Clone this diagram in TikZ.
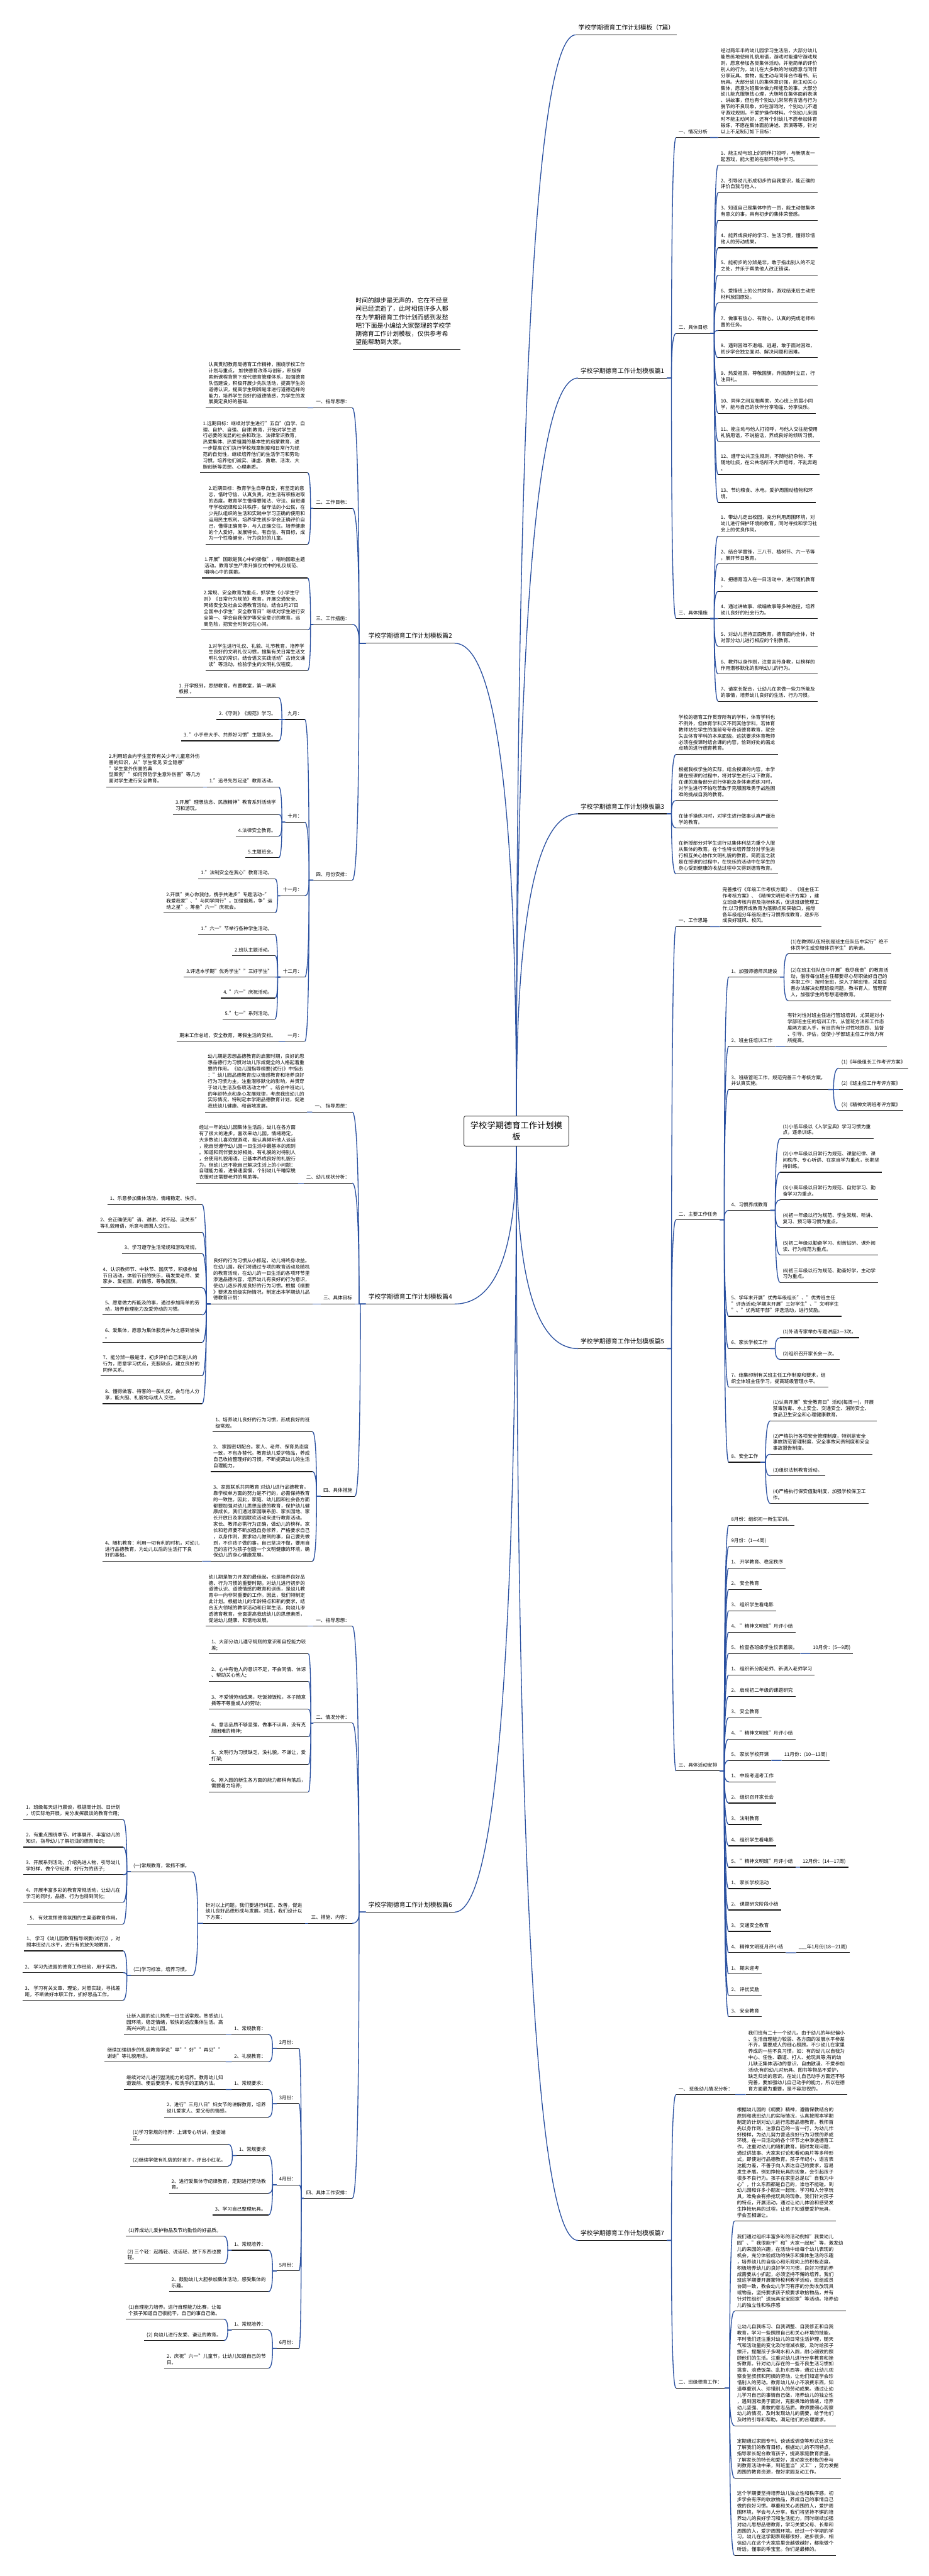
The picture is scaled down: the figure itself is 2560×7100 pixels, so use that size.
\documentclass[tikz,border=0pt]{standalone}
\usepackage{fontspec}
\setmainfont{Noto Sans CJK SC}
\usetikzlibrary{calc}
\definecolor{cblue}{RGB}{42,80,160}
\definecolor{uline}{RGB}{26,26,26}
\newcommand\fbody{\fontsize{13.3}{17.1}\selectfont}
\newcommand\ftitle{\fontsize{17}{23}\selectfont}
\newcommand\froot{\fontsize{23}{30}\selectfont}
\tikzset{
  ulstyle/.style={draw=uline,line width=2pt},
  nd/.style={inner xsep=7pt,inner ysep=0pt,align=left,font=\fbody,
    execute at end node={\rule[-11pt]{0pt}{11pt}},
    append after command={(\tikzlastnode.south west) edge[ulstyle] (\tikzlastnode.south east)}},
  R/.style={nd,anchor=south west},
  L/.style={nd,anchor=south east},
  ttl/.style={inner xsep=7pt,inner ysep=0pt,align=left,font=\ftitle,
    execute at end node={\rule[-13.5pt]{0pt}{13.5pt}},
    append after command={(\tikzlastnode.south west) edge[ulstyle] (\tikzlastnode.south east)}},
  intro/.style={inner xsep=7pt,inner ysep=0pt,align=left,font=\fontsize{17}{23}\selectfont,
    execute at end node={\rule[-13pt]{0pt}{13pt}},
    append after command={(\tikzlastnode.south west) edge[ulstyle] (\tikzlastnode.south east)}},
  rootnode/.style={draw=uline!85,fill=white,line width=1.6pt,rounded corners=5pt,align=center,font=\froot,
    minimum width=289pt,minimum height=83pt,inner sep=0pt},
  conn/.style={draw=cblue,line width=2.3pt,to path={let \p1=(\tikztostart),\p2=(\tikztotarget) in
    -- ({\x1/2+\x2/2},\y1) .. controls ({\x1/2+\x2/2},{\y1/3+\y2/3*2}) and ({\x1/3+\x2/3*2},\y2) .. (\p2)}},
  rconn/.style={draw=cblue,line width=2.3pt,to path={let \p1=(\tikztostart),\p2=(\tikztotarget) in
    .. controls (\x1,{\y1/3+\y2/3*2}) and ({\x1/3*2+\x2/3},\y2) .. (\p2)}}
}
\newcommand\cR[2]{\draw[conn] (#1.south east) to (#2.south west);}
\newcommand\cL[2]{\draw[conn] (#1.south west) to (#2.south east);}
\begin{document}
\begin{tikzpicture}[x=1pt,y=-1pt]
\fill[white] (0,0) rectangle (2560,7100);
\useasboundingbox (0,0) rectangle (2560,7100);

% ---------- titles ----------
\node[ttl,anchor=south west] (t0) at (1587,96) {学校学期德育工作计划模板（7篇）};
\node[ttl,anchor=south west] (t1) at (1593,1042) {学校学期德育工作计划模板篇1};
\node[ttl,anchor=south east] (t2) at (1253,1773) {学校学期德育工作计划模板篇2};
\node[ttl,anchor=south west] (t3) at (1593,2243) {学校学期德育工作计划模板篇3};
\node[ttl,anchor=south east] (t4) at (1253,3594) {学校学期德育工作计划模板篇4};
\node[ttl,anchor=south west] (t5) at (1593,3717) {学校学期德育工作计划模板篇5};
\node[ttl,anchor=south east] (t6) at (1253,5270) {学校学期德育工作计划模板篇6};
\node[ttl,anchor=south west] (t7) at (1593,6175) {学校学期德育工作计划模板篇7};
\coordinate (ctop) at (1423,3076);
\coordinate (cbot) at (1423,3159);
\foreach \t in {t0,t1,t3}{\draw[rconn] (ctop) to (\t.south west);}
\foreach \t in {t5,t7}{\draw[rconn] (cbot) to (\t.south west);}
\draw[rconn] (ctop) to (t2.south east);
\foreach \t in {t4,t6}{\draw[rconn] (cbot) to (\t.south east);}
\node[rootnode] (c) at (1423,3117.5) {学校学期德育工作计划模\\板};

\node[intro,anchor=south west] (intro) at (973,963) {时间的脚步是无声的，它在不经意\\间已经流逝了，此时相信许多人都\\在为学期德育工作计划而感到发愁\\吧?下面是小编给大家整理的学校学\\期德育工作计划模板，仅供参考希\\望能帮助到大家。};
\draw[ulstyle] (intro.south east) -- ++(18,0);

% ---------- 篇1 ----------
\node[R] (a1) at (1863,379) {一、情况分析};
\node[R] (a1p) at (1979,379) {经过两年半的幼儿园学习生活后，大部分幼儿\\能熟练地使用礼貌用语，游戏时能遵守游戏规\\则，愿意参加各类集体活动，并能简单的评价\\别人的行为，幼儿在大多数的时候愿意与同伴\\分享玩具、食物，能主动与同伴合作看书、玩\\玩具。大部分幼儿的集体意识强，能主动关心\\集体，愿意为班集体做力所能及的事。大部分\\幼儿能克服胆怯心理，大胆地在集体面前表演\\、讲故事，但也有个别幼儿常常有言语与行为\\脱节的不良现象，如在游戏时，个别幼儿不遵\\守游戏规则，不爱护操作材料。个别幼儿来园\\时不能主动问好，还有个别幼儿不愿参加体育\\锻炼，不愿在集体面前讲述、表演等等，针对\\以上不足制订如下目标：};
\node[R] (a2) at (1863,919) {二、具体目标};
\node[R] (a2n1) at (1979,455) {1、能主动与班上的同伴打招呼，与新朋友一\\起游戏，能大胆的在新环境中学习。};
\node[R] (a2n2) at (1979,531) {2、引导幼儿形成初步的自我意识，能正确的\\评价自我与他人。};
\node[R] (a2n3) at (1979,607) {3、知道自己是集体中的一员，能主动做集体\\有意义的事，具有初步的集体荣誉感。};
\node[R] (a2n4) at (1979,683) {4、能养成良好的学习、生活习惯，懂得珍惜\\他人的劳动成果。};
\node[R] (a2n5) at (1979,758) {5、能初步的分辨是非，敢于指出别人的不足\\之处，并乐于帮助他人改正错误。};
\node[R] (a2n6) at (1979,835) {6、爱惜班上的公共财务，游戏结束后主动把\\材料放回原处。};
\node[R] (a2n7) at (1979,911) {7、做事有信心、有耐心，认真的完成老师布\\置的任务。};
\node[R] (a2n8) at (1979,986) {8、遇到困难不退缩、逃避，敢于面对困难，\\初步学会独立面对、解决问题和困难。};
\node[R] (a2n9) at (1979,1063) {9、热爱祖国，尊敬国旗，升国旗时立正，行\\注目礼。};
\node[R] (a2n10) at (1979,1139) {10、同伴之间互相帮助，关心班上的弱小同\\学，能与自己的伙伴分享物品、分享快乐。};
\node[R] (a2n11) at (1979,1216) {11、能主动与他人打招呼，与他人交往能使用\\礼貌用语，不说脏话，养成良好的倾听习惯。};
\node[R] (a2n12) at (1979,1308) {12、遵守公共卫生规则，不随地扔杂物、不\\随地吐痰，在公共场所不大声喧哗，不乱奔跑\\。};
\node[R] (a2n13) at (1979,1385) {13、节约粮食、水电，爱护周围动植物和环\\境。};
\node[R] (a3) at (1863,1705) {三、具体措施};
\node[R] (a3n1) at (1979,1477) {1、带幼儿走出校园，充分利用周围环境，对\\幼儿进行保护环境的教育，同时寻找和学习社\\会上的优良作风。};
\node[R] (a3n2) at (1979,1554) {2、结合学雷锋，三八节、植树节、六一节等\\，展开节日教育。};
\node[R] (a3n3) at (1979,1630) {3、把德育溶入在一日活动中，进行随机教育\\。};
\node[R] (a3n4) at (1979,1705) {4、通过讲故事、续编故事等多种途径，培养\\幼儿良好的社会行为。};
\node[R] (a3n5) at (1979,1781) {5、对幼儿坚持正面教育，德育面向全体，针\\对部分幼儿进行相应的个别教育。};
\node[R] (a3n6) at (1979,1858) {6、教师以身作则，注意言传身教，以榜样的\\作用潜移默化的影响幼儿的行为。};
\node[R] (a3n7) at (1979,1933) {7、请家长配合，让幼儿在家做一些力所能及\\的事情，培养幼儿良好的生活、行为习惯。};
\foreach \v in {a1,a2,a3}{\cR{t1}{\v}}
\cR{a1}{a1p}
\foreach \i in {1,...,13}{\cR{a2}{a2n\i}}
\foreach \i in {1,...,7}{\cR{a3}{a3n\i}}

% ---------- 篇3 ----------
\node[R] (p3a) at (1863,2079) {学校的德育工作贯穿所有的学科，体育学科也\\不例外，但体育学科又不同其他学科，若体育\\教师站在学生的面前夸夸奇谈德育教育，就会\\失去体育学科的本来面貌。这就要求体育教师\\必须在授课时结合课的内容，恰到好处的画龙\\点睛的进行德育教育。};
\node[R] (p3b) at (1863,2206) {根据我校学生的实际，结合授课的内容，本学\\期在授课的过程中，将对学生进行以下教育。\\在课的准备部分进行体能及身体素质练习时，\\对学生进行不怕吃苦敢于克服困难勇于战胜困\\难的挑战自我的教育。};
\node[R] (p3c) at (1863,2282) {在徒手操练习时，对学生进行做事认真严谨治\\学的教育。};
\node[R] (p3d) at (1863,2409) {在新授部分对学生进行以集体利益为重个人服\\从集体的教育。在个性特长培养部分对学生进\\行相互关心协作文明礼貌的教育。简而言之就\\是在授课的过程中，在快乐的活动中在学生的\\身心受到健康的收益过程中又得到德育教育。};
\foreach \v in {p3a,p3b,p3c,p3d}{\cR{t3}{\v}}

% ---------- 篇5 ----------
\node[R] (e1) at (1863,2554) {一、工作思路};
\node[R] (e1p) at (1984,2554) {完善推行《年级工作考核方案》、《班主任工\\作考核方案》、《精神文明班考评方案》，建\\立班级考核内容及指标体系，促进班级管理工\\作;以习惯养成教育为落脚点和突破口，指导\\各年级组分年级段进行习惯养成教育，逐步形\\成良好班风、校风。};
\node[R] (e2) at (1863,3362) {二、主要工作任务};
\node[R] (e21) at (2008,2693) {1、加强师德师风建设};
\node[R] (e21a) at (2172,2629) {(1)在教师队伍特别是班主任队伍中实行"绝不\\体罚学生或变相体罚学生"的承诺。};
\node[R] (e21b) at (2172,2758) {(2)在班主任队伍中开展"我尽我责"的教育活\\动，倡导每位班主任都要尽心尽职做好自己的\\本职工作：按时坐班，深入了解班情，采取妥\\善办法解决处理班级问题，教书育人，管理育\\人，加强学生的思想道德教育。};
\node[R] (e22) at (2008,2884) {2、班主任培训工作};
\node[R] (e22a) at (2163,2884) {有针对性对班主任进行管班培训，尤其是对小\\学部班主任的培训工作，从管班方法和工作态\\度两方面入手，有目的有针对性地跟踪、监督\\、引导、评估，促使小学部班主任工作效力有\\所提高。};
\node[R] (e23) at (2008,3003) {3、班级管班工作，规范完善三个考核方案，\\并认真实施。};
\node[R] (e23a) at (2312,2944) {(1)《年级组长工作考评方案》};
\node[R] (e23b) at (2312,3003) {(2)《班主任工作考评方案》};
\node[R] (e23c) at (2312,3061) {(3)《精神文明班考评方案》};
\node[R] (e24) at (2008,3336) {4、习惯养成教育};
\node[R] (e24a) at (2150,3138) {(1)小低年级以《入学宝典》学习习惯为重\\点，逐条训练。};
\node[R] (e24b) at (2150,3231) {(2)小中年级以日常行为规范、课堂纪律、课\\间秩序、专心听讲、在家自学为重点，长期坚\\持训练。};
\node[R] (e24c) at (2150,3307) {(3)小高年级以日常行为规范、自觉学习、勤\\奋学习为重点。};
\node[R] (e24d) at (2150,3383) {(4)初一年级以行为规范、学生常规、听讲、\\复习、预习等习惯为重点。};
\node[R] (e24e) at (2150,3459) {(5)初二年级以勤奋学习、刻苦钻研、课外阅\\读、行为规范为重点。};
\node[R] (e24f) at (2150,3535) {(6)初三年级以行为规范、勤奋好学，主动学\\习为重点。};
\node[R] (e25) at (2008,3628) {5、学年末开展"优秀年级组长"、"优秀班主任\\"评选活动;学期末开展"三好学生"、"文明学生\\"、"优秀班干部"评选活动，进行奖励。};
\node[R] (e26) at (2008,3717) {6、家长学校工作};
\node[R] (e26a) at (2150,3687) {(1)外请专家举办专题讲座2—3次。};
\node[R] (e26b) at (2150,3747) {(2)组织召开家长会一次。};
\node[R] (e27) at (2008,3823) {7、结集印制有关班主任工作制度和要求，组\\织全体班主任学习，提高班级管理水平。};
\node[R] (e28) at (2008,4030) {8、安全工作};
\node[R] (e28a) at (2123,3916) {(1)认真开展"安全教育日"活动(每周一)，开展\\禁毒防毒、水上安全、交通安全、消防安全、\\食品卫生安全和心理健康教育。};
\node[R] (e28b) at (2123,4008) {(2)严格执行各项安全管理制度，特别是安全\\事故防范管理制度、安全事故问责制度和安全\\事故报告制度。};
\node[R] (e28c) at (2123,4068) {(3)组织法制教育活动。};
\node[R] (e28d) at (2123,4144) {(4)严格执行保安值勤制度，加强学校保卫工\\作。};
\node[R] (e3) at (1863,4881) {三、具体活动安排};
\foreach \v/\tx [count=\k from 0] in {
 k0/{8月份：组织初一新生军训。},
 k1/{9月份：(1—4周)},
 k2/{1、 开学教育、稳定秩序},
 k3/{2、 安全教育},
 k4/{3、 组织学生看电影},
 k5/{4、 "精神文明班"月评小结},
 k6/{5、 检查各班级学生仪表着装。},
 k7/{1、 组织新分配老师、新调入老师学习},
 k8/{2、 启动初二年级的课题研究},
 k9/{3、 安全教育},
 k10/{4、 "精神文明班"月评小结},
 k11/{5、 家长学校开课},
 k12/{1、 中段考迎考工作},
 k13/{2、 组织召开家长会},
 k14/{3、 法制教育},
 k15/{4、 组织学生看电影},
 k16/{5、 "精神文明班"月评小结},
 k17/{1、 家长学校活动},
 k18/{2、 课题研究阶段小结},
 k19/{3、 交通安全教育},
 k20/{4、 精神文明班月评小结},
 k21/{1、 期末迎考},
 k22/{2、 评优奖励},
 k23/{3、 安全教育}}{
 \node[R] (\v) at (2008,{4204+58.9*\k}) {\tx};
 \cR{e3}{\v}
}
\node[R] (k6s) at (2233,{4204+58.9*6}) {10月份：(5—9周)};
\node[R] (k11s) at (2154,{4204+58.9*11}) {11月份：(10—13周)};
\node[R] (k16s) at (2205,{4204+58.9*16}) {12月份：(14—17周)};
\node[R] (k20s) at (2194,{4204+58.9*20}) {\_\_\_年1月份(18—21周)};
\cR{k6}{k6s}\cR{k11}{k11s}\cR{k16}{k16s}\cR{k20}{k20s}
\foreach \v in {e1,e2,e3}{\cR{t5}{\v}}
\cR{e1}{e1p}
\foreach \v in {e21,e22,e23,e24,e25,e26,e27,e28}{\cR{e2}{\v}}
\cR{e21}{e21a}\cR{e21}{e21b}\cR{e22}{e22a}
\foreach \v in {a,b,c}{\cR{e23}{e23\v}}
\foreach \v in {a,b,c,d,e,f}{\cR{e24}{e24\v}}
\cR{e26}{e26a}\cR{e26}{e26b}
\foreach \v in {a,b,c,d}{\cR{e28}{e28\v}}

% ---------- 篇7 ----------
\node[R] (g1) at (1863,5773) {一、 班级幼儿情况分析：};
\node[R] (g1p) at (2055,5773) {我们班有二十一个幼儿。由于幼儿的年纪偏小\\、生活自理能力较弱、各方面的发展水平参差\\不齐，需要成人的细心照顾。不少幼儿在家里\\养成的一些不良习惯，如：有的幼儿以自我为\\中心、任性、霸道、打人、抢玩具等;有的幼\\儿缺乏集体活动的意识，自由散漫、不爱参加\\活动;有的幼儿对玩具、图书等物品不爱护，\\缺乏归类的意识。在幼儿自己动手方面还不够\\完善，要加强幼儿自己动手的能力，所以在德\\育方面最为重要，是不容忽视的。};
\node[R] (g2) at (1863,6582) {二、班级德育工作：};
\node[R] (g2a) at (2024,6122) {根据幼儿园的《纲要》精神，遵循保教结合的\\原则和我班幼儿的实际情况，认真按照本学期\\制定的计划对幼儿进行思想品德教育。教师首\\先以身作则，注意自己的一言一行，为幼儿作\\好榜样，为幼儿努力营造良好行为习惯的养成\\环境。在一日活动的各个环节之中渗透德育工\\作，注重对幼儿的随机教育。随时发现问题，\\通过讲故事、大家来讨论和看动画片等多种形\\式，即使进行品德教育。孩子年纪小，语言表\\达能力差，不善于向人表达自己的要求，容易\\发生矛盾。例如挣抢玩具的现象，会引起孩子\\很多不良行为。孩子在家里总是以"自我为中\\心"，什么东西都是自己的，谁也不能碰。到\\幼儿园和许多小朋友一起玩，学习和人分享玩\\具，难免会有挣抢玩具的现象。我们针对孩子\\的特点，开展活动，通过让幼儿体验和感受发\\生挣抢玩具的过程，让孩子知道要爱护玩具，\\学会互相谦让。};
\node[R] (g2b) at (2024,6370) {我们通过组织丰富多彩的活动例如"我爱幼儿\\园"、"我很能干"和"大家一起玩"等，激发幼\\儿的来园的兴趣，在活动中给每个幼儿表现的\\机会，充分体验成功的快乐和集体生活的乐趣\\，培养幼儿的自信心和乐观向上的积极态度。\\积极培养幼儿的良好学习习惯，良好习惯的养\\成需要从小抓起，必须坚持不懈的培养。我们\\班这学期要开展蒙特梭利教学活动，班组成员\\协调一致，教会幼儿学习有序的分类收放玩具\\或物品，坚持要求孩子按要求收拾物品，并有\\针对性组织"送玩具宝宝回家"等活动。培养幼\\儿的独立性和秩序感};
\node[R] (g2c) at (2024,6686) {让幼儿自我练习、自我调整、自我修正和自我\\教育，学习一些照顾自己和关心环境的技能。\\平时我们还注重对幼儿的日常生活护理，随天\\气和活动量的变化及时增减衣服，及时给孩子\\擦汗，提醒孩子多喝水和入厕，耐心细致的照\\顾他们的生活。注重对幼儿进行分享教育和挫\\折教育。针对幼儿存在的一些不良生活习惯如\\挑食、浪费饭菜、乱扔东西等，通过让幼儿观\\察食堂叔叔和阿姨的劳动，让他们知道学会珍\\惜别人的劳动。教育幼儿从小不浪费东西，知\\道尊重别人、珍惜别人的劳动成果。通过让幼\\儿学习自己的事情自己做，培养幼儿的独立性\\，遇到困难勇于面对，克服畏难的情绪，培养\\幼儿坚强、勇敢的意志品质。教师要细心观察\\幼儿的情况，及时发现幼儿的需要，给予他们\\及时的引导和帮助，满足他们的合理要求。};
\node[R] (g2d) at (2024,6830) {定期通过家园专刊、谈话或调查等形式让家长\\了解我们的教育目标，根据幼儿的不同特点，\\指导家长配合教育孩子，提高家庭教育质量。\\了解家长的特长和爱好，发动家长积极的参与\\到教育活动中来，到班里当"义工"，努力发掘\\周围的教育资源，做好家园互动工作。};
\node[R] (g2e) at (2024,7043) {这个学期要坚持培养幼儿独立性和秩序感，初\\步学会有序的收放物品，养成自己的事情自己\\做的良好习惯。尊重和关心周围的人，爱护周\\围环境，学会与人分享。我们将坚持不懈的培\\养幼儿的良好学习和生活能力，同时继续加强\\对幼儿思想品德教育，学习关爱父母、长辈和\\周围的人，爱护周围环境。经过一个学期的学\\习，幼儿在这学期表现都很好，进步很多，相\\信幼儿在这个大家庭里会越做越好，都能做个\\听话，懂事的乖宝宝。你们是最棒的。};
\cR{t7}{g1}\cR{t7}{g2}\cR{g1}{g1p}
\foreach \v in {a,b,c,d,e}{\cR{g2}{g2\v}}

% ---------- 篇2 ----------
\node[L] (b1) at (971,1124) {一、指导思想：};
\node[L] (b1p) at (848,1124) {认真贯彻教育局德育工作精神，围绕学校工作\\计划与重点， 加快德育改革与创新，积极探\\索新课程背景下现代德育管理体系，加强德育\\队伍建设，积极开展少先队活动，提高学生的\\道德认识，提高学生明辨是非进行道德选择的\\能力，培养学生良好的道德情感，为学生的发\\展奠定良好的基础.};
\node[L] (b2) at (971,1401) {二、工作目标：};
\node[L] (b2a) at (848,1303) {1.远期目标：继续对学生进行"五自"(自学、自\\理、自护、自强、自律)教育，开始对学生进\\行必要的浅显的社会和政治、法律常识教育，\\热爱集体、热爱祖国的基本性的启蒙教育，进\\一步提高它们执行学校规章制度和日常行为规\\范的自觉性，继续培养他们的生活学习和劳动\\习惯。培养他们诚实、谦虚、勇敢、活泼、大\\胆创新等思想、心理素质。};
\node[L] (b2b) at (848,1500) {2.近期目标：教育学生自尊自爱，有坚定的意\\志，惜时守信、认真负责，对生活有积极进取\\的态度。教育学生懂得要知法、守法、自觉遵\\守学校纪律和公共秩序，做守法的小公民，在\\少先队组织的生活和实践中学习正确的使用和\\运用民主权利。培养学生初步学会正确评价自\\己，懂得正确竞争，与人正确交往。培养健康\\的个人爱好，发展特长。有自信、有目标，成\\为一个性格健全，行为良好的儿童。};
\node[L] (b3) at (971,1721) {三、工作措施：};
\node[L] (b3a) at (848,1593) {1.开展"国歌是我心中的骄傲"，唱响国歌主题\\活动。教育学生严肃升旗仪式中的礼仪规范、\\唱响心中的国歌。};
\node[L] (b3b) at (848,1736) {2.常规、安全教育为重点，抓学生《小学生守\\则》《日常行为规范》教育，开展交通安全、\\网络安全及社会公德教育活动。结合3月27日\\全国中小学生"安全教育日"继续对学生进行安\\全第一、学会自我保护等安全意识的教育。远\\离危险，把安全时刻记在心间。};
\node[L] (b3c) at (848,1848) {3.对学生进行礼仪、礼貌、礼节教育，培养学\\生良好的文明礼仪习惯，搜集有关日常生活文\\明礼仪的常识。结合语文实践活动"古诗文诵\\读"等活动，检验学生的文明礼仪程度。};
\node[L] (b4) at (971,2426) {四、月份安排：};
\node[L] (m9) at (840,1983) {九月：};
\node[L] (m9a) at (768,1923) {1. 开学报到，思想教育，布置教室，第一期黑\\板报 。};
\node[L] (m9b) at (768,1983) {2.《守则》《规范》学习。};
\node[L] (m9c) at (768,2042) {3. "小手牵大手、共养好习惯"主题队会。};
\node[L] (m10) at (840,2266) {十月：};
\node[L] (m10a) at (768,2169) {1."追寻先烈足迹"教育活动。};
\node[L] (m10a1) at (560,2169) {2.利用班会向学生宣传有关少年儿童意外伤\\害的知识，从"学生常见 安全隐患"\\"学生意外伤害的典\\型案例""如何预防学生意外伤害"等几方\\面对学生进行安全教育。};
\node[L] (m10b) at (768,2245) {3.开展"理想信念、民族精神"教育系列活动学\\习和游玩。};
\node[L] (m10c) at (768,2305) {4.法律安全教育。};
\node[L] (m10d) at (768,2364) {5.主题班会。};
\node[L] (m11) at (840,2469) {十一月：};
\node[L] (m11a) at (758,2422) {1."法制安全在我心"教育活动。};
\node[L] (m11b) at (758,2516) {2.开展"关心你我他，携手共进步"专题活动–"\\我爱我家"、"与同学同行"。加强锻炼，争"运\\动之星"。筹备"六一"庆祝会。};
\node[L] (m12) at (840,2693) {十二月：};
\node[L] (m12a) at (758,2575) {1."六一"节举行各种学生活动。};
\node[L] (m12b) at (758,2634) {2.班队主题活动。};
\node[L] (m12c) at (758,2693) {3.评选本学期"优秀学生""三好学生"};
\node[L] (m12d) at (758,2751) {4. "六一"庆祝活动。};
\node[L] (m12e) at (758,2809) {5."七一"系列活动。};
\node[L] (m1) at (840,2870) {一月：};
\node[L] (m1a) at (768,2870) {期末工作总结，安全教育，寒假生活的安排。};
\foreach \v in {b1,b2,b3,b4}{\cL{t2}{\v}}
\cL{b1}{b1p}\cL{b2}{b2a}\cL{b2}{b2b}
\foreach \v in {a,b,c}{\cL{b3}{b3\v}}
\foreach \v in {m9,m10,m11,m12,m1}{\cL{b4}{\v}}
\foreach \v in {a,b,c}{\cL{m9}{m9\v}}
\foreach \v in {a,b,c,d}{\cL{m10}{m10\v}}
\cL{m10a}{m10a1}
\cL{m11}{m11a}\cL{m11}{m11b}
\foreach \v in {a,b,c,d,e}{\cL{m12}{m12\v}}
\cL{m1}{m1a}

% ---------- 篇4 ----------
\node[L] (d1) at (971,3065) {一、 指导思想：};
\node[L] (d1p) at (846,3065) {幼儿期是思想品德教育的启蒙时期，良好的思\\想品德行为习惯对幼儿形成健全的人格起着重\\要的作用。《幼儿园指导纲要(试行)》中指出\\："幼儿园品德教育应以情感教育和培养良好\\行为习惯为主，注重潜移默化的影响，并贯穿\\于幼儿生活及各项活动之中"。结合中班幼儿\\的年龄特点和身心发展规律，考虑我班幼儿的\\实际情况，特制定本学期品德教育计划，促进\\我班幼儿健康、和谐地发展。};
\node[L] (d2) at (971,3261) {二、幼儿现状分析：};
\node[L] (d2p) at (822,3261) {经过一年的幼儿园集体生活后，幼儿在各方面\\有了很大的进步。喜欢来幼儿园，情绪稳定，\\大多数幼儿喜欢做游戏，能认真倾听他人谈话\\，能自觉遵守幼儿园一日生活中最基本的规则\\。知道和同伴要友好相处、有礼貌的对待别人\\，会使用礼貌用语，已基本养成良好的礼貌行\\为。但幼儿还不能自己解决生活上的小问题：\\自理能力差，进餐速度慢，个别幼儿午睡穿脱\\衣服时还需要老师的帮助等。};
\node[L] (d3) at (978,3594) {三、具体目标};
\node[L] (d3p) at (861,3594) {良好的行为习惯从小抓起，幼儿将终身收益。\\在幼儿园，我们将通过专项的教育活动及随机\\的教育活动，在幼儿的一日生活的各项环节里\\渗透品德内容，培养幼儿有良好的行为意识，\\使幼儿逐步养成良好的行为习惯。根据《纲要\\》要求及班级实际情况，制定出本学期幼儿品\\德教育计划：};
\node[L] (d3a) at (557,3320) {1、乐意参加集体活动，情绪稳定、快乐。};
\node[L] (d3b) at (557,3396) {2、会正确使用"请、谢谢、对不起、没关系"\\等礼貌用语，乐意与周围人交往。};
\node[L] (d3c) at (557,3455) {3、学习遵守生活常规和游戏常规。};
\node[L] (d3d) at (557,3549) {4、认识教师节、中秋节、国庆节，积极参加\\节日活动，体验节日的快乐，萌发爱老师、爱\\家乡、爱祖国，的情感，尊敬国旗。};
\node[L] (d3e) at (557,3624) {5、愿意做力所能及的事，通过参加简单的劳\\动，培养自理能力及爱劳动的习惯。};
\node[L] (d3f) at (557,3700) {6、爱集体，愿意为集体服务并为之感到愉快\\。};
\node[L] (d3g) at (557,3792) {7、能分辨一般是非，初步评价自己和别人的\\行为，愿意学习优点，克服缺点，建立良好的\\同伴关系。};
\node[L] (d3h) at (557,3869) {8、懂得做客、待客的一般礼仪，会与他人分\\享，能大胆、礼貌地与成人 交往。};
\node[L] (d4) at (978,4124) {四、具体措施};
\node[L] (d4a) at (861,3946) {1、培养幼儿良好的行为习惯，形成良好的班\\级常规。};
\node[L] (d4b) at (861,4056) {2、 家园密切配合。家人、老师、保育员态度\\一致，不包办替代。教育幼儿爱护物品，养成\\自己收拾整理好的习惯。不断提高幼儿的生活\\自理能力。};
\node[L] (d4c) at (861,4303) {3、家园联系共同教育 对幼儿进行品德教育，\\靠学校单方面的努力是不行的，必需保持教育\\的一致性。因此，家庭、幼儿园和社会各方面\\都要加强对幼儿思想品德的教育，保护幼儿健\\康成长。我们通过家园联系册、家长园地、家\\长开放日及家园联欢活动来进行教育活动。\\家长、教师必需行为正确，做幼儿的榜样。家\\长和老师要不断加强自身修养，严格要求自己\\，以身作则，要求幼儿做到的事，自己要先做\\到，不许孩子做的事，自己坚决不做，要用自\\己的言行为孩子创造一个文明健康的环境，确\\保幼儿的身心健康发展。};
\node[L] (d4c1) at (557,4303) {4、随机教育：利用一切有利的时机，对幼儿\\进行品德教育，为幼儿以后的生活打下良\\好的基础。};
\foreach \v in {d1,d2,d3,d4}{\cL{t4}{\v}}
\cL{d1}{d1p}\cL{d2}{d2p}\cL{d3}{d3p}
\foreach \v in {a,b,c,d,e,f,g,h}{\cL{d3p}{d3\v}}
\foreach \v in {a,b,c}{\cL{d4}{d4\v}}
\cL{d4c}{d4c1}

% ---------- 篇6 ----------
\node[L] (f1) at (971,4482) {一、指导思想：};
\node[L] (f1p) at (848,4482) {幼儿期是智力开发的最佳起，也是培养良好品\\德、行为习惯的重要时期，对幼儿进行初步的\\道德认识、道德情感的教育和训练，是幼儿教\\育中一向非常重要的工作。因此，我们特制定\\此计划。根据幼儿的年龄特点和新的要求，结\\合五大领域的教学活动和日常生活，向幼儿渗\\透德育教育，全面提高我班幼儿的思想素质，\\促进幼儿健康、和谐地发展。};
\node[L] (f2) at (971,4749) {二、情况分析：};
\node[L] (f2a) at (850,4558) {1、大部分幼儿遵守规则的意识和自控能力较\\差;};
\node[L] (f2b) at (850,4634) {2、心中有他人的意识不足，不会同情、体谅\\、帮助关心他人;};
\node[L] (f2c) at (850,4711) {3、不爱惜劳动成果，吃饭掉饭粒，本子随意\\撕等不尊重成人的劳动;};
\node[L] (f2d) at (850,4787) {4、意志品质不够坚强，做事不认真，没有克\\服困难的精神;};
\node[L] (f2e) at (850,4863) {5、文明行为习惯缺乏，没礼貌，不谦让，爱\\打架;};
\node[L] (f2f) at (850,4939) {6、刚入园的新生各方面的能力都稍有落后，\\需要着力培养;};
\node[L] (f3) at (971,5301) {三、措施、内容：};
\node[L] (f3p) at (840,5301) {针对以上问题，我们要进行纠正、改善，促进\\幼儿良好品德形成与发展。对此，我们设计以\\下方案：};
\node[L] (f31) at (530,5159) {(一)常规教育，常抓不懈。};
\node[L] (f31a) at (339,5015) {1、班级每天进行晨谈，根据周计划、日计划\\，切实际地开展，充分发挥晨谈的教育作用;};
\node[L] (f31b) at (339,5091) {2、有重点围绕季节、时事展开、丰富幼儿的\\知识，指导幼儿了解初浅的德育知识;};
\node[L] (f31c) at (339,5167) {3、开展系列活动，介绍先进人物，引导幼儿\\学好样，做个守纪律、好行为的孩子;};
\node[L] (f31d) at (339,5243) {4、开展丰富多彩的教育常规活动，让幼儿在\\学习的同时，品德、行为也得到同化;};
\node[L] (f31e) at (339,5303) {5、 有效发挥德育氛围的主渠道教育作用。};
\node[L] (f32) at (530,5445) {(二)学习标准，培养习惯。};
\node[L] (f32a) at (339,5377) {1、 学习《幼儿园教育指导纲要(试行)》，对\\照本班幼儿水平，进行有的放矢地教育。};
\node[L] (f32b) at (339,5437) {2、 学习先进园的德育工作经验，用于实践。};
\node[L] (f32c) at (339,5513) {3、 学习有关文章、理论，对照实践，寻找差\\距，不断做好本职工作，抓好思品工作。};
\node[L] (f4) at (971,6059) {四、具体工作安排：};
\node[L] (y2) at (824,5646) {2月份：};
\node[L] (y2a) at (740,5607) {1、常规教育：};
\node[L] (y2a1) at (622,5607) {让新入园的幼儿熟悉一日生活常规。熟悉幼儿\\园环境，稳定情绪，较快的适应集体生活。高\\高兴兴的上幼儿园。};
\node[L] (y2b) at (740,5683) {2、礼貌教育：};
\node[L] (y2b1) at (622,5683) {继续加强初步的礼貌教育学说"早""好""再见""\\谢谢"等礼貌用语。};
\node[L] (y3) at (824,5798) {3月份：};
\node[L] (y3a) at (740,5759) {1、常规要求：};
\node[L] (y3a1) at (622,5759) {继续对幼儿进行盥洗能力的培养。教育幼儿知\\道饭前、便后要洗手，和洗手的正确方法。};
\node[L] (y3b) at (740,5835) {2、进行"三月八日"妇女节的讲解教育，培养\\幼儿爱家人、爱父母的情感。};
\node[L] (y4) at (824,6022) {4月份：};
\node[L] (y4a) at (740,5941) {1、常规要求};
\node[L] (y4a1) at (629,5910) {(1)学习常规的培养：上课专心听讲，坐姿端\\正。};
\node[L] (y4a2) at (629,5970) {(2)继续学做有礼貌的好孩子，评出小红花。};
\node[L] (y4b) at (740,6045) {2、进行爱集体守纪律教育，定期进行劳动教\\育。};
\node[L] (y4c) at (740,6105) {3、学习自己整理玩具。};
\node[L] (y5) at (824,6259) {5月份：};
\node[L] (y5a) at (740,6202) {1、常规培养：};
\node[L] (y5a1) at (617,6163) {(1)养成幼儿爱护物品及节约勤俭的好品质。};
\node[L] (y5a2) at (617,6239) {(2) 三个轻：起路轻、说话轻、放下东西也要\\轻。};
\node[L] (y5b) at (740,6316) {2、鼓励幼儿大胆参加集体活动，感受集体的\\乐趣。};
\node[L] (y6) at (824,6473) {6月份：};
\node[L] (y6a) at (740,6422) {1、常规培养：};
\node[L] (y6a1) at (617,6392) {(1)自理能力培养。进行自理能力比赛，让每\\个孩子知道自己很能干，自己的事自己做。};
\node[L] (y6a2) at (617,6451) {(2) 向幼儿进行友爱、谦让的教育。};
\node[L] (y6b) at (740,6527) {2、庆祝"六一"儿童节，让幼儿知道自己的节\\日。};
\foreach \v in {f1,f2,f3,f4}{\cL{t6}{\v}}
\cL{f1}{f1p}
\foreach \v in {a,b,c,d,e,f}{\cL{f2}{f2\v}}
\cL{f3}{f3p}\cL{f3p}{f31}\cL{f3p}{f32}
\foreach \v in {a,b,c,d,e}{\cL{f31}{f31\v}}
\foreach \v in {a,b,c}{\cL{f32}{f32\v}}
\foreach \v in {y2,y3,y4,y5,y6}{\cL{f4}{\v}}
\cL{y2}{y2a}\cL{y2}{y2b}\cL{y2a}{y2a1}\cL{y2b}{y2b1}
\cL{y3}{y3a}\cL{y3}{y3b}\cL{y3a}{y3a1}
\cL{y4}{y4a}\cL{y4}{y4b}\cL{y4}{y4c}\cL{y4a}{y4a1}\cL{y4a}{y4a2}
\cL{y5}{y5a}\cL{y5}{y5b}\cL{y5a}{y5a1}\cL{y5a}{y5a2}
\cL{y6}{y6a}\cL{y6}{y6b}\cL{y6a}{y6a1}\cL{y6a}{y6a2}
\end{tikzpicture}
\end{document}
